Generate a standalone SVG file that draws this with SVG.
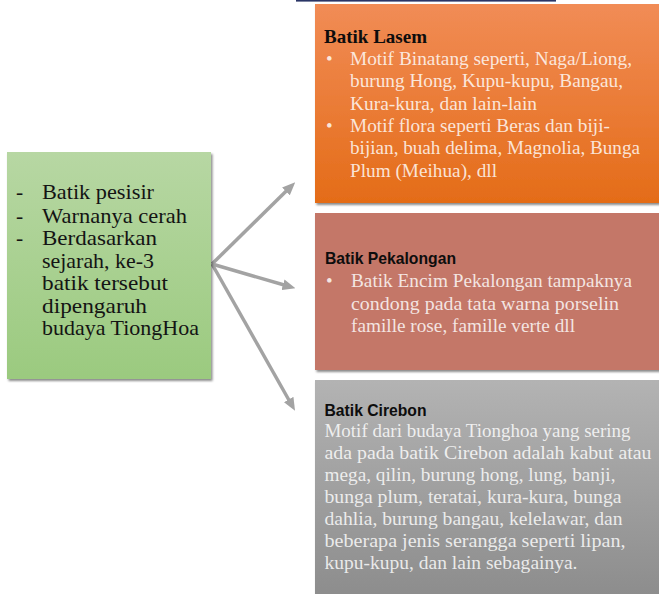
<svg xmlns="http://www.w3.org/2000/svg" width="659" height="594" viewBox="0 0 659 594">
<defs>
<linearGradient id="gOrange" x1="0" y1="0" x2="0" y2="1"><stop offset="0" stop-color="#F18C56"/><stop offset="1" stop-color="#E46C18"/></linearGradient>
<linearGradient id="gGray" x1="0" y1="0" x2="0" y2="1"><stop offset="0" stop-color="#B3B3B3"/><stop offset="1" stop-color="#8C8C8C"/></linearGradient>
<linearGradient id="gGreen" x1="0" y1="0" x2="0" y2="1"><stop offset="0" stop-color="#B7D7A3"/><stop offset="1" stop-color="#9BCA7F"/></linearGradient>
<filter id="sh" x="-5%" y="-5%" width="115%" height="115%"><feDropShadow dx="1.5" dy="2" stdDeviation="1.3" flood-color="#000" flood-opacity="0.45"/></filter>
<marker id="ah" markerUnits="userSpaceOnUse" markerWidth="13" markerHeight="11" refX="4" refY="5.5" orient="auto"><path d="M0,0 L13,5.5 L0,11 z" fill="#A3A3A3"/></marker>
<style>
.body{font-family:"Liberation Serif","Times New Roman",serif;font-size:19px;fill:#fff;fill-opacity:0.82}
.green{font-family:"Liberation Serif","Times New Roman",serif;font-size:21.5px;fill:#141414}
.hs{font-family:"Liberation Sans",Arial,sans-serif;font-weight:bold;font-size:16.5px;fill:#0d0d0d}
.hser{font-family:"Liberation Serif","Times New Roman",serif;font-weight:bold;font-size:19px;fill:#0d0d0d}
.conn{stroke:#A3A3A3;stroke-width:3.5;fill:none;marker-end:url(#ah)}
</style>
</defs>
<rect x="296" y="0" width="260" height="1.6" fill="#2A3566"/>
<g id="connectors">
<line class="conn" x1="212" y1="264" x2="288.8" y2="188.6"/>
<line class="conn" x1="212" y1="264" x2="286.8" y2="285.8"/>
<line class="conn" x1="212" y1="264" x2="290.6" y2="403"/>
</g>
<g id="node-main">
<rect x="7" y="152" width="204" height="227" fill="url(#gGreen)" filter="url(#sh)"/>
<text class="green" x="16" y="199">-</text>
<text class="green" x="16" y="222.5">-</text>
<text class="green" x="16" y="245">-</text>
<text class="green" x="42" y="199" textLength="112" lengthAdjust="spacingAndGlyphs">Batik pesisir</text>
<text class="green" x="42" y="222.5" textLength="145" lengthAdjust="spacingAndGlyphs">Warnanya cerah</text>
<text class="green" x="42" y="245" textLength="115" lengthAdjust="spacingAndGlyphs">Berdasarkan</text>
<text class="green" x="42" y="267.5" textLength="112" lengthAdjust="spacingAndGlyphs">sejarah, ke-3</text>
<text class="green" x="42" y="290" textLength="126" lengthAdjust="spacingAndGlyphs">batik tersebut</text>
<text class="green" x="42" y="312.5" textLength="105" lengthAdjust="spacingAndGlyphs">dipengaruh</text>
<text class="green" x="42" y="335" textLength="157" lengthAdjust="spacingAndGlyphs">budaya TiongHoa</text>
</g>
<g id="node-lasem">
<rect x="315" y="4" width="346" height="199" fill="url(#gOrange)" filter="url(#sh)"/>
<text class="hser" x="324" y="43" textLength="103" lengthAdjust="spacingAndGlyphs">Batik Lasem</text>
<text class="body" x="326" y="65">•</text>
<text class="body" x="326" y="132">•</text>
<text class="body" x="350" y="65" textLength="282" lengthAdjust="spacingAndGlyphs">Motif Binatang seperti, Naga/Liong,</text>
<text class="body" x="350" y="87.3" textLength="273" lengthAdjust="spacingAndGlyphs">burung Hong, Kupu-kupu, Bangau,</text>
<text class="body" x="350" y="109.6" textLength="187" lengthAdjust="spacingAndGlyphs">Kura-kura, dan lain-lain</text>
<text class="body" x="350" y="132" textLength="260" lengthAdjust="spacingAndGlyphs">Motif flora seperti Beras dan biji-</text>
<text class="body" x="350" y="154.3" textLength="290" lengthAdjust="spacingAndGlyphs">bijian, buah delima, Magnolia, Bunga</text>
<text class="body" x="350" y="176.6" textLength="147" lengthAdjust="spacingAndGlyphs">Plum (Meihua), dll</text>
</g>
<g id="node-pekalongan">
<rect x="315" y="213" width="346" height="157" fill="#C47767" filter="url(#sh)"/>
<text class="hs" x="325" y="264" textLength="131" lengthAdjust="spacingAndGlyphs">Batik Pekalongan</text>
<text class="body" x="326" y="287">•</text>
<text class="body" x="351" y="287" textLength="281" lengthAdjust="spacingAndGlyphs">Batik Encim Pekalongan tampaknya</text>
<text class="body" x="351" y="309.5" textLength="268" lengthAdjust="spacingAndGlyphs">condong pada tata warna porselin</text>
<text class="body" x="351" y="331.8" textLength="224" lengthAdjust="spacingAndGlyphs">famille rose, famille verte dll</text>
</g>
<g id="node-cirebon">
<rect x="315" y="380" width="346" height="220" fill="url(#gGray)" filter="url(#sh)"/>
<text class="hs" x="324.5" y="415.5" textLength="102" lengthAdjust="spacingAndGlyphs">Batik Cirebon</text>
<text class="body" x="324.5" y="436.5" textLength="306" lengthAdjust="spacingAndGlyphs">Motif dari budaya Tionghoa yang sering</text>
<text class="body" x="324.5" y="458.5" textLength="327" lengthAdjust="spacingAndGlyphs">ada pada batik Cirebon adalah kabut atau</text>
<text class="body" x="324.5" y="480.5" textLength="291" lengthAdjust="spacingAndGlyphs">mega, qilin, burung hong, lung, banji,</text>
<text class="body" x="324.5" y="502.5" textLength="297" lengthAdjust="spacingAndGlyphs">bunga plum, teratai, kura-kura, bunga</text>
<text class="body" x="324.5" y="524.5" textLength="298" lengthAdjust="spacingAndGlyphs">dahlia, burung bangau, kelelawar, dan</text>
<text class="body" x="324.5" y="546.5" textLength="301" lengthAdjust="spacingAndGlyphs">beberapa jenis serangga seperti lipan,</text>
<text class="body" x="324.5" y="568.5" textLength="253" lengthAdjust="spacingAndGlyphs">kupu-kupu, dan lain sebagainya.</text>
</g>
</svg>
